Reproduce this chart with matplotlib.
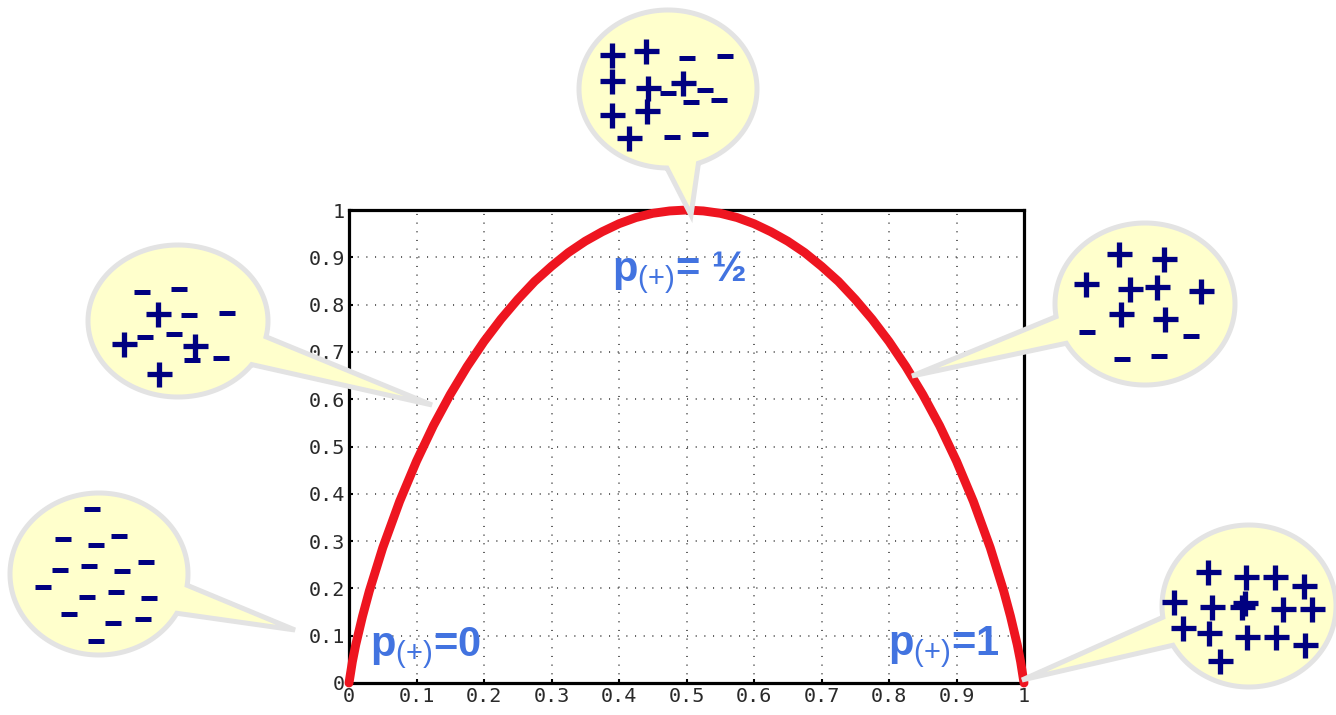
import numpy as np
import matplotlib
matplotlib.use("Agg")
import matplotlib.pyplot as plt
from matplotlib.patches import Polygon

plt.rcParams["mathtext.fontset"] = "custom"
plt.rcParams["mathtext.rm"] = "Liberation Sans"
plt.rcParams["mathtext.bf"] = "Liberation Sans:bold"

# Entropy curve read along p(+)
p_pos = [0.0, 0.005, 0.01, 0.02, 0.03, 0.05, 0.075, 0.1, 0.125, 0.15, 0.175,
         0.2, 0.225, 0.25, 0.275, 0.3, 0.325, 0.35, 0.375, 0.4, 0.425, 0.45,
         0.475, 0.5, 0.525, 0.55, 0.575, 0.6, 0.625, 0.65, 0.675, 0.7, 0.725,
         0.75, 0.775, 0.8, 0.825, 0.85, 0.875, 0.9, 0.925, 0.95, 0.97, 0.98,
         0.99, 0.995, 1.0]
entropy = [0.0, 0.045, 0.081, 0.141, 0.194, 0.286, 0.384, 0.469, 0.544, 0.610,
           0.669, 0.722, 0.769, 0.811, 0.849, 0.881, 0.910, 0.934, 0.954, 0.971,
           0.984, 0.993, 0.998, 1.0, 0.998, 0.993, 0.984, 0.971, 0.954, 0.934,
           0.910, 0.881, 0.849, 0.811, 0.769, 0.722, 0.669, 0.610, 0.544, 0.469,
           0.384, 0.286, 0.194, 0.141, 0.081, 0.045, 0.0]

tick_values = [0, 0.1, 0.2, 0.3, 0.4, 0.5, 0.6, 0.7, 0.8, 0.9, 1]
tick_labels = ["0", "0.1", "0.2", "0.3", "0.4", "0.5", "0.6", "0.7", "0.8", "0.9", "1"]

# Annotations on the curve: (text, x, y)
curve_labels = [
    (r"$\mathbf{p}_{\mathrm{(+)}}$=0", 0.031, 0.057),
    (r"$\mathbf{p}_{\mathrm{(+)}}$= ½", 0.39, 0.85),
    (r"$\mathbf{p}_{\mathrm{(+)}}$=1", 0.799, 0.059),
]

# Sample symbols in each bubble (pixel positions on the page)
top_plus_x = [611.7, 646.0, 611.7, 648.3, 683.3, 611.7, 646.7, 629.0]
top_plus_y = [55.0, 50.7, 81.0, 87.7, 83.3, 115.0, 111.0, 138.0]
top_minus_x = [687.3, 725.3, 668.3, 705.3, 691.3, 719.3, 671.7, 700.3]
top_minus_y = [58.3, 56.0, 93.3, 90.0, 102.0, 100.0, 136.7, 134.3]

left_plus_x = [158.3, 124.3, 195.3, 159.0]
left_plus_y = [314.0, 344.0, 346.0, 374.0]
left_minus_x = [142.3, 179.3, 189.3, 226.7, 145.3, 174.3, 192.3, 221.3]
left_minus_y = [292.3, 289.3, 315.3, 313.0, 337.3, 334.3, 360.3, 358.0]

low_minus_x = [92.3, 63.3, 96.3, 119.3, 60.3, 89.3, 122.3, 146.3, 43.3, 87.3,
               116.3, 149.3, 69.3, 113.3, 143.3, 96.3]
low_minus_y = [509.3, 539.3, 545.3, 536.3, 570.3, 566.3, 571.0, 562.3, 587.3,
               597.3, 592.3, 598.3, 614.3, 623.3, 619.3, 641.3]

right_plus_x = [1119.3, 1164.0, 1085.7, 1130.0, 1156.7, 1201.0, 1120.7, 1165.0]
right_plus_y = [254.3, 259.0, 284.3, 289.0, 287.0, 290.7, 314.3, 319.0]
right_minus_x = [1087.3, 1191.3, 1122.3, 1159.3]
right_minus_y = [332.3, 336.0, 359.0, 356.0]

pure_plus_x = [1207.7, 1245.7, 1275.3, 1304.3, 1173.7, 1211.7, 1241.7, 1245.0,
               1282.7, 1312.3, 1183.0, 1208.7, 1246.7, 1276.0, 1305.0, 1220.3]
pure_plus_y = [572.3, 576.7, 576.7, 585.7, 602.3, 607.0, 606.5, 603.0, 609.3,
               609.3, 627.7, 632.7, 637.0, 637.0, 645.3, 660.7]

W, H = 1336, 715
fig = plt.figure(figsize=(W / 100, H / 100), dpi=100)
fig.patch.set_facecolor("white")

# Main plot
ax = fig.add_axes([349 / W, 1 - 683 / H, (1024 - 349) / W, (683 - 210) / H])
ax.set_xlim(0, 1)
ax.set_ylim(0, 1)
ax.plot(p_pos, entropy, color="#ee1520", lw=6.4, solid_capstyle="round",
        clip_on=False, zorder=4)
ax.set_xticks(tick_values)
ax.set_yticks(tick_values)
ax.set_xticklabels(tick_labels)
ax.set_yticklabels(tick_labels)
ax.tick_params(direction="in", length=3, width=1.5, color="black",
               labelsize=14.5, labelcolor="#2a2a2a", pad=3)
for lab in ax.get_xticklabels() + ax.get_yticklabels():
    lab.set_family("DejaVu Sans Mono")
ax.grid(True, color="#555555", lw=1.3, linestyle=(0, (0.6, 4.2)))
for s in ax.spines.values():
    s.set_linewidth(2.3)
    s.set_color("black")

for text, x, y in curve_labels:
    ax.text(x, y, text, color="#4273e0", fontsize=30, family="Liberation Sans",
            fontweight="bold", ha="left", va="baseline", zorder=5)

# Overlay in page pixels for the speech bubbles
ov = fig.add_axes([0, 0, 1, 1], zorder=10)
ov.set_xlim(0, W)
ov.set_ylim(H, 0)
ov.axis("off")
ov.patch.set_alpha(0)


def bubble(cx, cy, rx, ry, a_lo, a_hi, tip):
    t = np.radians(np.linspace(a_hi, a_lo + 360, 200))
    pts = np.column_stack([cx + rx * np.cos(t), cy + ry * np.sin(t)])
    pts = np.vstack([pts, tip])
    ov.add_patch(Polygon(pts, closed=True, facecolor="#ffffcc",
                         edgecolor="#e3e3e3", lw=3.6, joinstyle="miter"))


bubble(668, 89, 89, 79, 70, 90.7, (691, 215))
bubble(178, 321, 90, 76, 12, 35, (432, 405))
bubble(99, 574, 89, 81, 8, 29, (295, 630))
bubble(1145, 304, 90, 81, 151, 171, (912, 376))
bubble(1249, 606, 87, 81, 151, 172, (1022, 680))

navy = "#000080"
plus_kw = dict(marker="+", markersize=18, markeredgewidth=3.8, color=navy,
               linestyle="none")
minus_kw = dict(marker="_", markersize=11, markeredgewidth=3.6, color=navy,
                linestyle="none")

for xs, ys in [(top_plus_x, top_plus_y), (left_plus_x, left_plus_y),
               (right_plus_x, right_plus_y), (pure_plus_x, pure_plus_y)]:
    ov.plot(xs, ys, **plus_kw)
for xs, ys in [(top_minus_x, top_minus_y), (left_minus_x, left_minus_y),
               (low_minus_x, low_minus_y), (right_minus_x, right_minus_y)]:
    ov.plot(xs, ys, **minus_kw)

fig.savefig("out.png", dpi=100)
